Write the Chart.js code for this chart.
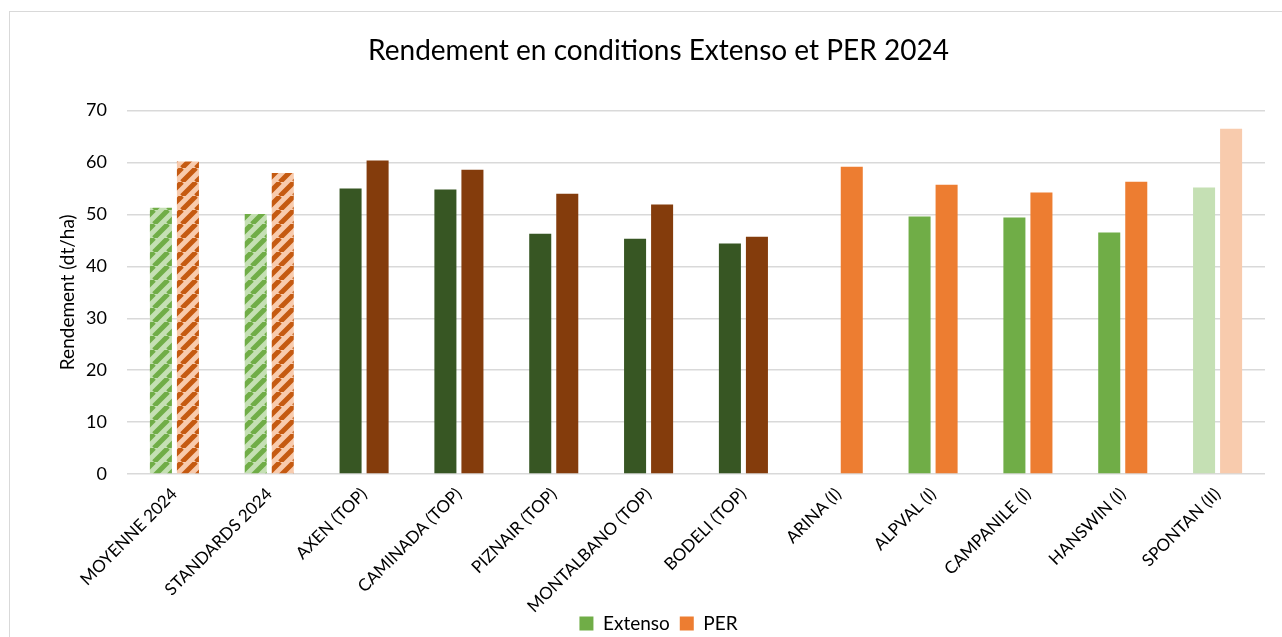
<!DOCTYPE html>
<html>
<head>
<meta charset="utf-8">
<script src="https://cdn.jsdelivr.net/npm/chart.js@4/dist/chart.umd.min.js"></script>
<style>
  body { margin: 0; background: #fff; }
  #wrap { position: relative; width: 1282px; height: 637px; overflow: hidden; }
  #cadre { position: absolute; left: 9px; top: 11px; width: 1300px; height: 700px; border: 1px solid #d9d9d9; }
  canvas { position: absolute; left: 0; top: 0; }
</style>
</head>
<body>
<div id="wrap">
  <div id="cadre"></div>
  <canvas id="graphRendement" width="1282" height="637"></canvas>
</div>
<script>
// ===============================
// Données
// ===============================
const categories = [
    "MOYENNE 2024", "STANDARDS 2024", "AXEN (TOP)", "CAMINADA (TOP)", "PIZNAIR (TOP)",
    "MONTALBANO (TOP)", "BODELI (TOP)", "ARINA (I)", "ALPVAL (I)", "CAMPANILE (I)",
    "HANSWIN (I)", "SPONTAN (II)"
];
const extenso = [51.3, 50.1, 55.0, 54.8, 46.3, 45.3, 44.4, null, 49.6, 49.4, 46.5, 55.2];
const per = [60.2, 58.0, 60.4, 58.6, 54.0, 51.9, 45.7, 59.2, 55.7, 54.2, 56.3, 66.5];
const yTicks = [0, 10, 20, 30, 40, 50, 60, 70];

// ===============================
// Motifs hachurés
// ===============================
function hachure(fond, trait) {
    const t = 14;
    const c = document.createElement("canvas");
    c.width = t; c.height = t;
    const g = c.getContext("2d");
    g.fillStyle = fond;
    g.fillRect(0, 0, t, t);
    g.strokeStyle = trait;
    g.lineWidth = 5;
    g.beginPath();
    for (let k = -1; k <= 1; k++) {
        g.moveTo(k * t, t);
        g.lineTo(k * t + t, 0);
    }
    g.stroke();
    return g.createPattern(c, "repeat");
}

const vertHachure = hachure("#c5e0b4", "#70ad47");
const orangeHachure = hachure("#f8cbad", "#c55a11");

const couleursExtenso = categories.map((c, i) => {
    if (i < 2) return vertHachure;
    if (i < 7) return "#375623";
    if (i === 11) return "#c5e0b4";
    return "#70ad47";
});
const couleursPER = categories.map((c, i) => {
    if (i < 2) return orangeHachure;
    if (i < 7) return "#843c0c";
    if (i === 11) return "#f8cbad";
    return "#ed7d31";
});

// les étiquettes inclinées peuvent déborder sous l'axe
const sansCoupe = {
    id: "sansCoupe",
    beforeDraw: chart => { chart.scales.x._computeLabelArea = () => undefined; }
};

// ===============================
// Grafik
// ===============================
const police = "Lato, 'Open Sans', sans-serif";

new Chart(document.getElementById("graphRendement"), {
    type: "bar",
    data: {
        labels: categories,
        datasets: [
            { label: "Extenso", data: extenso, backgroundColor: couleursExtenso },
            { label: "PER", data: per, backgroundColor: couleursPER }
        ]
    },
    plugins: [sansCoupe],
    options: {
        responsive: false,
        animation: false,
        categoryPercentage: 0.57,
        barPercentage: 0.815,
        layout: { padding: { left: 52, right: 17, top: 30, bottom: -6 } },
        plugins: {
            title: {
                display: true,
                text: "Rendement en conditions Extenso et PER 2024",
                color: "#000",
                font: { family: police, size: 28, weight: "normal" },
                padding: { top: 4, bottom: 43 }
            },
            legend: {
                position: "bottom",
                labels: {
                    color: "#000",
                    font: { family: police, size: 19 },
                    boxWidth: 14,
                    boxHeight: 14,
                    padding: 10,
                    generateLabels: () => [
                        { text: "Extenso", fillStyle: "#70ad47", strokeStyle: "#70ad47", lineWidth: 0, datasetIndex: 0 },
                        { text: "PER", fillStyle: "#ed7d31", strokeStyle: "#ed7d31", lineWidth: 0, datasetIndex: 1 }
                    ]
                }
            },
            tooltip: { enabled: false }
        },
        scales: {
            x: {
                grid: { display: false },
                border: { display: false },
                afterFit: axis => { axis.height = 130; },
                ticks: {
                    color: "#000",
                    font: { family: police, size: 17 },
                    minRotation: 45,
                    maxRotation: 45,
                    padding: 2
                }
            },
            y: {
                min: 0,
                max: 70,
                afterBuildTicks: axis => { axis.ticks = yTicks.map(v => ({ value: v })); },
                afterFit: axis => { axis.width = 75; },
                grid: { color: "#d9d9d9", lineWidth: 1.5, drawTicks: false },
                border: { display: false },
                ticks: {
                    color: "#000",
                    font: { family: police, size: 18 },
                    padding: 20
                },
                title: {
                    display: true,
                    text: "Rendement (dt/ha)",
                    color: "#000",
                    font: { family: police, size: 19 },
                    padding: { top: 4, bottom: 4 }
                }
            }
        }
    }
});
</script>
</body>
</html>
